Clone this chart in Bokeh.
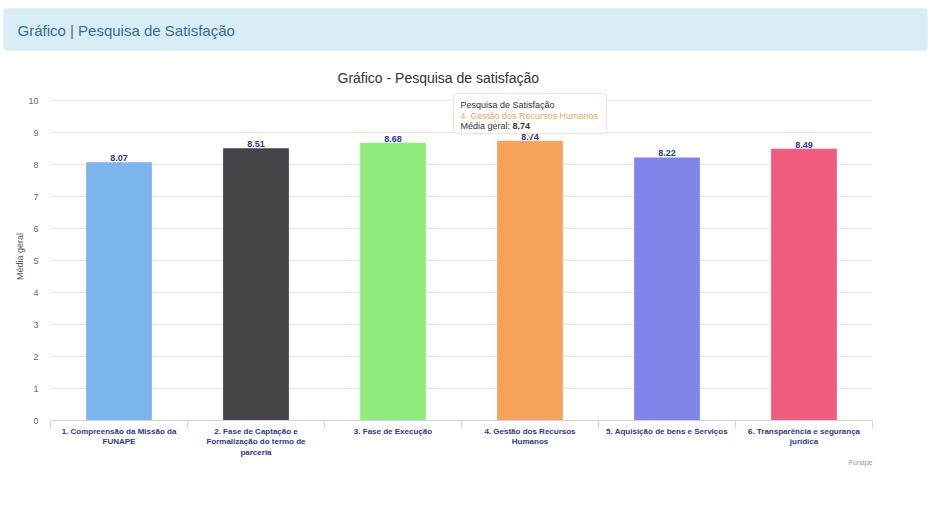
from bokeh.plotting import figure
from bokeh.models import Range1d, FixedTicker, Label, BoxAnnotation, ColumnDataSource, Title
from bokeh.core.properties import value
from bokeh.embed import file_html
from bokeh.resources import INLINE

# ---- data ----
categories = [
    "1. Compreensão da Missão da\nFUNAPE",
    "2. Fase de Captação e\nFormalização do termo de\nparceria",
    "3. Fase de Execução",
    "4. Gestão dos Recursos\nHumanos",
    "5. Aquisição de bens e Serviços",
    "6. Transparência e segurança\njurídica",
]
tooltip_category = "4. Gestão dos Recursos Humanos"
values = [8.07, 8.51, 8.68, 8.74, 8.22, 8.49]
colors = ["#7cb5ec", "#434348", "#90ed7d", "#f7a35c", "#8085e9", "#f15c80"]
y_ticks = [0, 1, 2, 3, 4, 5, 6, 7, 8, 9, 10]
highlight = 3

FONT = "Liberation Sans"
W = 928
n = len(categories)
xs = [i + 0.5 for i in range(n)]

# ---- header ----
HH = 52
header = figure(width=W, height=HH, x_range=Range1d(0, W), y_range=Range1d(0, HH),
                x_axis_type=None, y_axis_type=None, toolbar_location=None,
                output_backend="svg", min_border=0)
header.background_fill_color = "white"
header.border_fill_color = "white"
header.outline_line_color = None
header.grid.visible = False
header.add_layout(BoxAnnotation(left=3, right=W - 1, top=HH - 8, bottom=2,
                                fill_color="#d9edf7", fill_alpha=1, line_color="#bce8f1",
                                line_width=1, border_radius=4))
header.add_layout(Label(x=17, y=HH - 30, text="Gráfico | Pesquisa de Satisfação",
                        text_font=FONT, text_font_size="15px", text_color="#31708f",
                        text_baseline="middle"))

# ---- chart ----
p = figure(width=W, height=460, x_range=Range1d(0, n), y_range=Range1d(0, 10.25),
           toolbar_location=None, output_backend="svg",
           min_border_left=50, min_border_right=W - 872, min_border_top=40,
           min_border_bottom=92)
p.title = None
p.outline_line_color = None
p.background_fill_color = "white"

src = ColumnDataSource(dict(x=xs, top=values, color=colors,
                            label=[f"{v:.2f}" for v in values]))
p.vbar(x="x", top="top", width=0.48, color="color", source=src, line_color=None)
p.text(x="x", y="top", text="label", source=src, text_align="center",
       text_baseline="bottom", y_offset=-1, text_font=value(FONT),
       text_font_size="9px", text_font_style="bold", text_color="#2b3a8c")

# y axis
p.yaxis.ticker = FixedTicker(ticks=y_ticks)
p.yaxis.axis_line_color = None
p.yaxis.major_tick_line_color = None
p.yaxis.minor_tick_line_color = None
p.yaxis.major_label_text_font = FONT
p.yaxis.major_label_text_font_size = "9px"
p.yaxis.major_label_text_color = "#666666"
p.yaxis.major_label_standoff = 6
p.yaxis.axis_label = "Média geral"
p.yaxis.axis_label_text_font = FONT
p.yaxis.axis_label_text_font_size = "9px"
p.yaxis.axis_label_text_font_style = "normal"
p.yaxis.axis_label_text_color = "#555555"
p.yaxis.axis_label_standoff = 0
p.ygrid.grid_line_color = "#e6e6e6"
p.xgrid.grid_line_color = None

# x axis
p.xaxis.ticker = FixedTicker(ticks=xs, minor_ticks=list(range(n + 1)))
p.xaxis.major_label_overrides = {x: c for x, c in zip(xs, categories)}
p.xaxis.axis_line_color = "#ccd6eb"
p.xaxis.major_tick_line_color = None
p.xaxis.major_tick_out = 0
p.xaxis.major_tick_in = 0
p.xaxis.minor_tick_line_color = "#ccd6eb"
p.xaxis.minor_tick_out = 8
p.xaxis.minor_tick_in = 0
p.xaxis.major_label_standoff = -2
p.xaxis.major_label_text_font = FONT
p.xaxis.major_label_text_font_size = "8px"
p.xaxis.major_label_text_font_style = "bold"
p.xaxis.major_label_text_color = "#2b3a8c"
p.xaxis.major_label_text_line_height = 1.2

# title and credit
p.add_layout(Title(text="Gráfico - Pesquisa de satisfação", align="left", offset=287,
                   text_font=FONT, text_font_size="14px", text_color="#333333",
                   text_font_style="normal", standoff=14), "above")
p.add_layout(Title(text="Funape", align="right", text_font=FONT, text_font_size="7px",
                   text_color="#999999", text_font_style="normal", standoff=-8), "below")

# tooltip
cx = xs[highlight]
p.scatter(x=[cx], y=[8.97], marker="inverted_triangle", size=8, fill_color="white",
          line_color=colors[highlight], line_width=1)
p.add_layout(BoxAnnotation(left=cx - 0.558, right=cx + 0.558, top=10.22, bottom=8.97,
                           fill_color="white", fill_alpha=1, line_color=colors[highlight],
                           line_width=1, border_radius=3, level="overlay"))
tx = cx - 0.507
p.add_layout(Label(x=tx, y=9.875, text="Pesquisa de Satisfação", text_font=FONT,
                   text_font_size="9px", text_color="#333333", text_baseline="middle",
                   level="overlay"))
p.add_layout(Label(x=tx, y=9.53, text=tooltip_category, text_font=FONT,
                   text_font_size="9px", text_color=colors[highlight], text_baseline="middle",
                   level="overlay"))
p.add_layout(Label(x=tx, y=9.19, text="Média geral: ", text_font=FONT,
                   text_font_size="9px", text_color="#333333", text_baseline="middle",
                   level="overlay"))
p.add_layout(Label(x=tx + 0.38, y=9.19, text=f"{values[highlight]:.2f}", text_font=FONT,
                   text_font_size="9px", text_color="#333333", text_font_style="bold",
                   text_baseline="middle", level="overlay"))

open("out.html", "w").write(file_html([header, p], INLINE))
